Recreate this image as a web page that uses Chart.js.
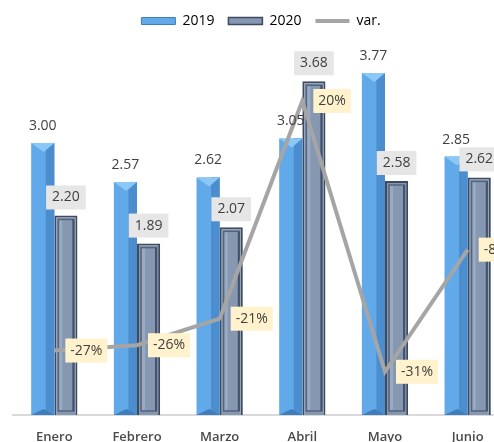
<!DOCTYPE html>
<html>
<head>
<meta charset="utf-8">
<script src="https://cdn.jsdelivr.net/npm/chart.js@4.4.0/dist/chart.umd.min.js"></script>
<style>
  html, body { margin: 0; padding: 0; background: #fff; overflow: hidden; }
</style>
</head>
<body>
<canvas id="chart" width="520" height="460"></canvas>
<script>
const months = ['Enero', 'Febrero', 'Marzo', 'Abril', 'Mayo', 'Junio'];
const sales2019 = [3.00, 2.57, 2.62, 3.05, 3.77, 2.85];
const sales2020 = [2.20, 1.89, 2.07, 3.68, 2.58, 2.62];
const varPct = [-27, -26, -21, 20, -31, -8];

const FONT = "'Open Sans', sans-serif";

// 3D-ish bevel on the bars (Excel style)
const bevels = {
  id: 'bevels',
  afterDatasetDraw(chart, args) {
    const i = args.index;
    if (i > 1) return;
    const ctx = chart.ctx;
    chart.getDatasetMeta(i).data.forEach(bar => {
      const { x, y, base, width } = bar.getProps(['x', 'y', 'base', 'width'], true);
      const l = x - width / 2, r = x + width / 2;
      ctx.save();
      if (i === 0) {
        ctx.fillStyle = '#4C8DCE';
        ctx.fillRect(x + 3, y, r - x - 3, base - y);
        ctx.fillStyle = '#8BC8F6';
        ctx.beginPath();
        ctx.moveTo(l, y); ctx.lineTo(r, y); ctx.lineTo(x + 1, y + 9);
        ctx.closePath(); ctx.fill();
        ctx.fillStyle = '#3F7DBD';
        ctx.beginPath();
        ctx.moveTo(l, base); ctx.lineTo(r, base); ctx.lineTo(x + 1, base - 6);
        ctx.closePath(); ctx.fill();
      } else {
        ctx.strokeStyle = '#55657D';
        ctx.lineWidth = 1.5;
        ctx.strokeRect(l + 4, y + 4, width - 8, base - y - 8);
        ctx.fillStyle = '#9AAAC2';
        ctx.fillRect(l + 5, y + 5, 3, base - y - 10);
        ctx.fillStyle = '#42506A';
        ctx.fillRect(r - 5, y + 4, 2, base - y - 8);
      }
      ctx.restore();
    });
  }
};

// data labels
const labels = {
  id: 'labels',
  afterDatasetsDraw(chart) {
    const ctx = chart.ctx;
    ctx.save();
    ctx.font = '14px ' + FONT;
    ctx.textAlign = 'center';
    ctx.textBaseline = 'middle';
    chart.getDatasetMeta(0).data.forEach((el, k) => {
      ctx.fillStyle = '#404040';
      ctx.fillText(sales2019[k].toFixed(2), el.x, el.y - 17);
    });
    chart.getDatasetMeta(1).data.forEach((el, k) => {
      const t = sales2020[k].toFixed(2);
      const w = ctx.measureText(t).width + 12;
      ctx.fillStyle = '#E7E6E6';
      ctx.fillRect(el.x - w / 2, el.y - 30, w, 24);
      ctx.fillStyle = '#404040';
      ctx.fillText(t, el.x, el.y - 18);
    });
    chart.getDatasetMeta(2).data.forEach((el, k) => {
      const t = varPct[k] + '%';
      const w = ctx.measureText(t).width + 10;
      ctx.fillStyle = '#FFF2CC';
      ctx.fillRect(el.x + 11, el.y - 12, w, 24);
      ctx.fillStyle = '#404040';
      ctx.fillText(t, el.x + 11 + w / 2, el.y);
    });
    ctx.restore();
  }
};

new Chart(document.getElementById('chart'), {
  type: 'bar',
  data: {
    labels: months,
    datasets: [
      {
        label: '2019',
        data: sales2019,
        backgroundColor: '#62A9EA',
        categoryPercentage: 0.56,
        barPercentage: 1.0,
        order: 1,
        yAxisID: 'y'
      },
      {
        label: '2020',
        data: sales2020,
        backgroundColor: '#8597B1',
        borderColor: '#3E4A5E',
        borderWidth: 2,
        categoryPercentage: 0.56,
        barPercentage: 1.0,
        order: 1,
        yAxisID: 'y'
      },
      {
        type: 'line',
        label: 'var.',
        data: varPct,
        borderColor: '#A5A5A5',
        borderWidth: 4,
        pointRadius: 0,
        tension: 0,
        order: 0,
        yAxisID: 'y1'
      }
    ]
  },
  options: {
    responsive: false,
    animation: false,
    layout: { padding: { left: 13, right: 11, top: 0, bottom: 0 } },
    plugins: {
      tooltip: { enabled: false },
      legend: {
        position: 'top',
        labels: {
          font: { family: FONT, size: 14 },
          color: '#595959',
          usePointStyle: true,
          pointStyleWidth: 34,
          boxHeight: 7,
          padding: 14,
          generateLabels: () => [
            { text: '2019', fillStyle: '#62A9EA', strokeStyle: '#3F7DBD', lineWidth: 1, pointStyle: 'rect', datasetIndex: 0 },
            { text: '2020', fillStyle: '#8597B1', strokeStyle: '#3E4A5E', lineWidth: 1.5, pointStyle: 'rect', datasetIndex: 1 },
            { text: 'var.', fillStyle: '#A5A5A5', strokeStyle: '#A5A5A5', lineWidth: 4, pointStyle: 'line', datasetIndex: 2 }
          ]
        }
      }
    },
    scales: {
      x: {
        grid: { display: false },
        border: { display: true, color: '#D9D9D9', width: 2 },
        ticks: { font: { family: FONT, size: 13, weight: '600' }, color: '#4A4A4A', padding: 6 },
        afterFit: s => { s.height = 45; }
      },
      y: { display: false, min: 0, max: 4.157 },
      y1: { display: false, position: 'right', min: -39.14, max: 31.86 }
    }
  },
  plugins: [bevels, labels]
});
</script>
</body>
</html>
